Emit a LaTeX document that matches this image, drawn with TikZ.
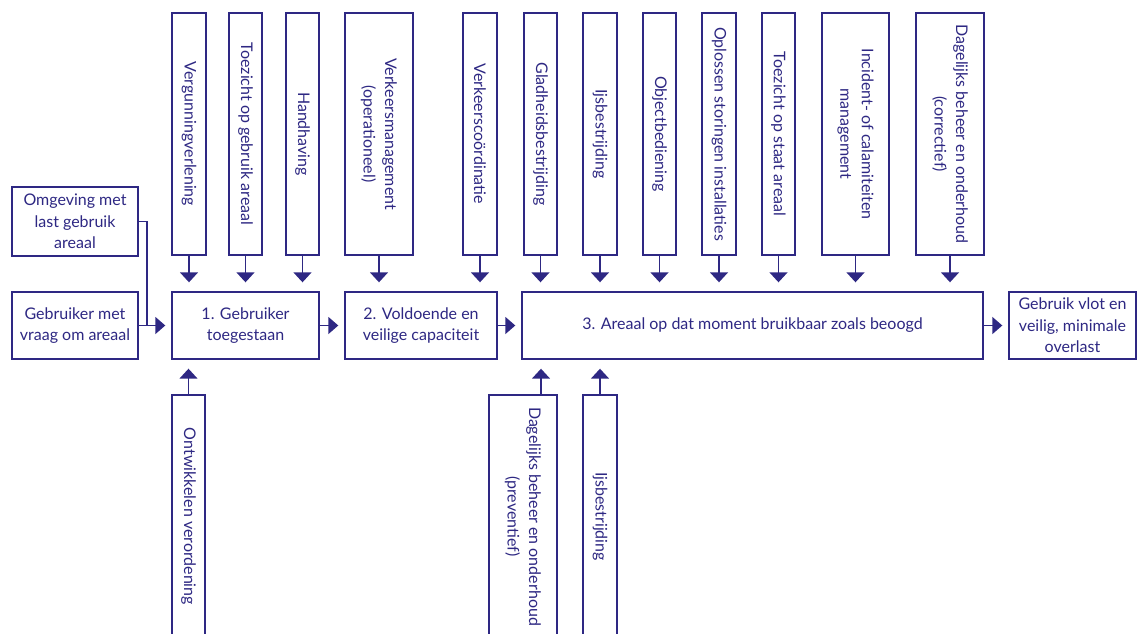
\documentclass[tikz,border=0pt]{standalone}
\usepackage{fontspec}
\setmainfont{Lato}
\usetikzlibrary{arrows.meta}
\definecolor{ink}{RGB}{46,40,131}
\begin{document}
\begin{tikzpicture}[x=1pt,y=-1pt,
  font=\fontsize{16}{21.5}\selectfont,
  box/.style={draw=ink, line width=1.4pt, fill=white, text=ink, inner sep=1pt, align=center},
  vbox/.style={box, rotate=-90},
  ln/.style={draw=ink, line width=1.5pt},
  arrv/.style={ln, -{Triangle[width=18pt,length=10pt]}, shorten >=9pt},
  arrh/.style={ln, -{Triangle[width=17pt,length=10pt]}, shorten >=6pt}]
\useasboundingbox (0,0) rectangle (1137,633);
\clip (0,0) rectangle (1137,633);
% main row
\node[box, minimum width=126pt, minimum height=69pt] (om) at (75,221.5) {Omgeving met\\last gebruik\\areaal};
\node[box, minimum width=126pt, minimum height=67pt] (gv) at (75,325.5) {Gebruiker met\\vraag om areaal};
\node[box, minimum width=147pt, minimum height=67pt] (b1) at (245.5,325.5) {1. Gebruiker\\toegestaan};
\node[box, minimum width=152pt, minimum height=67pt] (b2) at (421,325.5) {2. Voldoende en\\veilige capaciteit};
\node[box, minimum width=461pt, minimum height=67pt] (b3) at (752.5,325.5) {3. Areaal op dat moment bruikbaar zoals beoogd};
\node[box, minimum width=127pt, minimum height=67pt] (out) at (1072.5,325.5) {Gebruik vlot en\\veilig, minimale\\overlast};
% top boxes
\node[vbox, minimum width=242pt, minimum height=34pt] (t1) at (189,134) {Vergunningverlening};
\node[vbox, minimum width=242pt, minimum height=33pt] (t2) at (245.5,134) {Toezicht op gebruik areaal};
\node[vbox, minimum width=242pt, minimum height=33pt] (t3) at (302.5,134) {Handhaving};
\node[vbox, minimum width=242pt, minimum height=68pt] (t4) at (379,134) {Verkeersmanagement\\(operationeel)};
\node[vbox, minimum width=242pt, minimum height=34pt] (t5) at (480,134) {Verkeerscoördinatie};
\node[vbox, minimum width=242pt, minimum height=33pt] (t6) at (540.5,134) {Gladheidsbestrijding};
\node[vbox, minimum width=242pt, minimum height=34pt] (t7) at (600,134) {Ijsbestrijding};
\node[vbox, minimum width=242pt, minimum height=33pt] (t8) at (659.5,134) {Objectbediening};
\node[vbox, minimum width=242pt, minimum height=34pt] (t9) at (719,134) {Oplossen storingen installaties};
\node[vbox, minimum width=242pt, minimum height=33pt] (t10) at (778.5,134) {Toezicht op staat areaal};
\node[vbox, minimum width=242pt, minimum height=67pt] (t11) at (855.5,134) {Incident- of calamiteiten\\management};
\node[vbox, minimum width=242pt, minimum height=68pt] (t12) at (950,134) {Dagelijks beheer en onderhoud\\(correctief)};
% bottom boxes
\node[vbox, minimum width=243pt, minimum height=33pt] (u1) at (188.5,516.5) {Ontwikkelen verordening};
\node[vbox, minimum width=243pt, minimum height=68pt] (u2) at (523,516.5) {Dagelijks beheer en onderhoud\\(preventief)};
\node[vbox, minimum width=243pt, minimum height=34pt] (u3) at (600,516.5) {Ijsbestrijding};
\coordinate (ua) at (541,0);
\coordinate (jn) at (147,325.5);
% connectors top
\foreach \t in {t1,t2,t3} \draw[arrv] (\t.east) -- (\t.east |- b1.north);
\draw[arrv] (t4.east) -- (t4.east |- b2.north);
\foreach \t in {t5,t6,t7,t8,t9,t10,t11,t12} \draw[arrv] (\t.east) -- (\t.east |- b3.north);
% connectors bottom
\draw[arrv] (u1.west) -- (u1.west |- b1.south);
\draw[arrv] (u2.west -| ua) -- (ua |- b3.south);
\draw[arrv] (u3.west) -- (u3.west |- b3.south);
% main flow
\draw[ln] (om.east) -| (jn);
\draw[arrh] (gv.east) -- (b1.west);
\draw[arrh] (b1.east) -- (b2.west);
\draw[arrh] (b2.east) -- (b3.west);
\draw[arrh] (b3.east) -- (out.west);
\end{tikzpicture}
\end{document}
